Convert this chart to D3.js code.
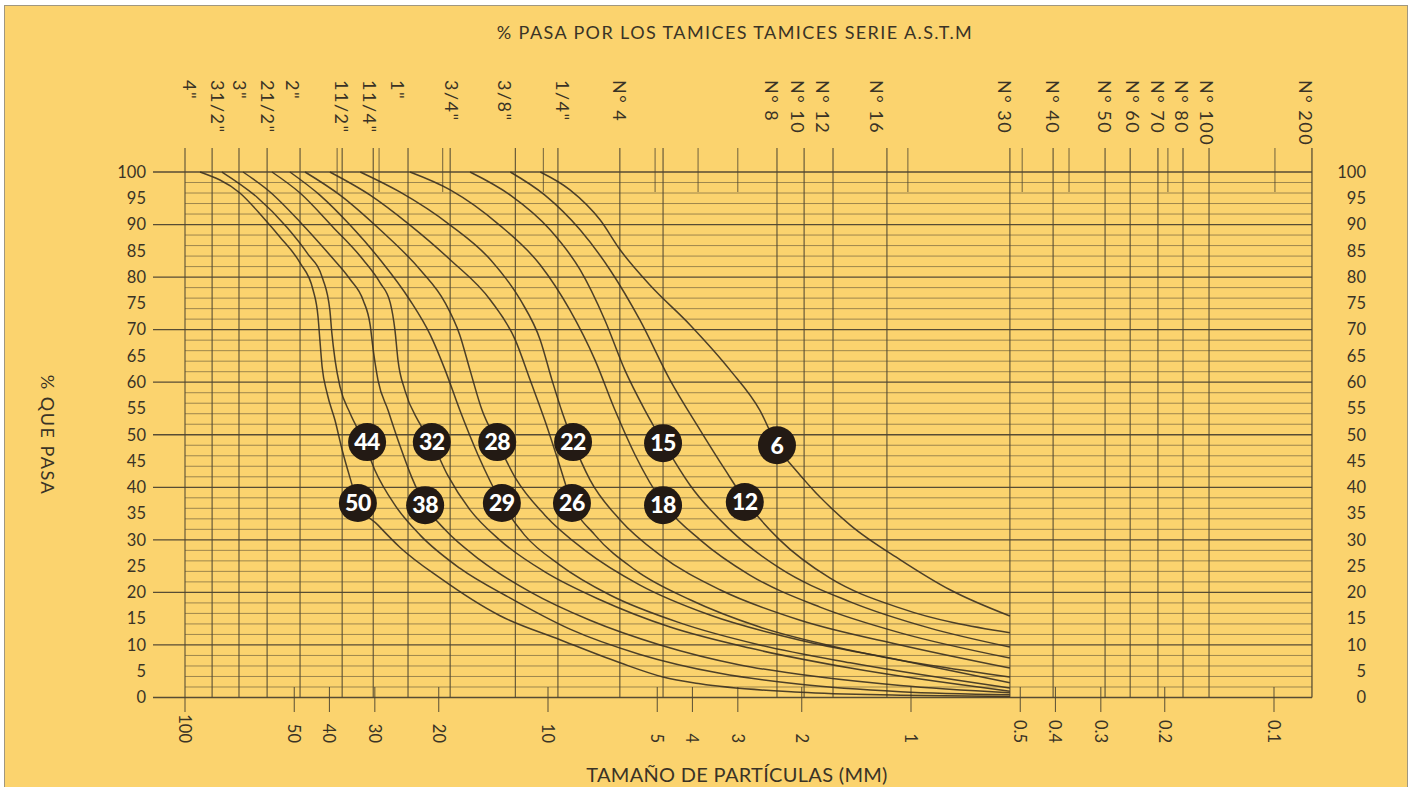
<!DOCTYPE html>
<html><head><meta charset="utf-8">
<script src="https://cdn.jsdelivr.net/npm/d3@7"></script>
<style>html,body{margin:0;padding:0;background:#fff;} svg{display:block}</style>
</head><body><svg id="chart" width="1411" height="787"></svg>
<script>
// ---------------- DATA ----------------
// % passing tick labels (both sides)
const yTickValues = [0,5,10,15,20,25,30,35,40,45,50,55,60,65,70,75,80,85,90,95,100];
// particle size axis (mm)
const xTickValues = [100,50,40,30,20,10,5,4,3,2,1,0.5,0.4,0.3,0.2,0.1];
const xTickLabels = ["100","50","40","30","20","10","5","4","3","2","1","0.5","0.4","0.3","0.2","0.1"];
// sieve lines (full height), positions in mm read on the size scale
const sieveLines = [100,84.2,71.0,59.4,48.2,36.9,30.3,24.3,18.6,12.3,9.39,6.34,4.82,2.34,1.97,1.64,1.165,0.534,0.406,0.292,0.249,0.2088,0.1781,0.151];
const rightEdgeMM = 0.0786;
// short ticks at the top of the grid (mm)
const topShortTicks = [38.1,29.2,19.5,10.3,5.07,3.86,3.00,1.02,0.494,0.367,0.196,0.0994];
// ASTM sieve names and where their labels sit (mm on the size scale)
const sieveNames = ['4"','31/2"','3"','21/2"','2"','11/2"','11/4"','1"','3/4"','3/8"','1/4"','N° 4','N° 8','N° 10','N° 12','N° 16','N° 30','N° 40','N° 50','N° 60','N° 70','N° 80','N° 100','N° 200'];
const sieveLabelPos = [96.9,81.1,70.6,59.1,50.4,36.9,30.9,25.9,18.4,13.1,9.09,6.33,2.41,2.05,1.75,1.24,0.551,0.406,0.292,0.2445,0.2088,0.1792,0.153,0.0816];

// grading curves: [size mm, % passing]
const c50 = [[90.9,100],[70.6,96.0],[61.0,91.4],[54.7,87.6],[48.2,82.7],[44.4,77.6],[43.0,72.4],[42.5,68.0],[41.9,62.9],[40.6,57.9],[38.6,52.7],[36.9,47.1],[35.1,41.8],[33.4,37.0],[29.4,32.8],[25.6,28.6],[19.8,22.7],[13.6,15.6],[9.27,11.0],[6.33,6.6],[4.82,3.9],[3.81,2.6],[2.02,1.0],[1.07,0.45],[0.534,0.2]];
const c44 = [[79.1,100],[63.3,95.2],[52.4,89.5],[46.1,84.6],[41.7,79.6],[39.9,73.7],[39.4,69.4],[38.6,64.2],[37.4,59.1],[35.1,54.1],[32.3,49.0],[30.0,43.3],[26.4,36.6],[22.5,30.9],[17.5,24.6],[12.7,18.9],[8.70,13.0],[5.58,8.2],[3.36,4.6],[2.02,2.5],[1.07,1.1],[0.534,0.5]];
const c38 = [[69.2,100],[58.3,96.2],[48.2,90.5],[39.9,84.2],[35.1,79.6],[32.3,75.6],[30.9,70.9],[30.3,66.1],[29.4,60.4],[27.6,54.7],[25.6,48.0],[23.7,41.8],[21.8,36.6],[19.2,31.9],[15.4,26.2],[11.2,20.1],[7.66,14.7],[4.91,10.0],[2.96,6.2],[1.78,3.9],[1.07,2.3],[0.534,0.9]];
const c32 = [[57.6,100],[48.2,96.0],[39.1,89.5],[32.3,83.3],[29.0,78.9],[27.2,75.1],[26.4,69.9],[25.9,64.2],[24.8,58.5],[22.8,52.7],[20.9,48.6],[18.9,42.3],[16.4,35.7],[13.6,30.0],[10.2,23.9],[7.19,18.6],[4.61,13.4],[2.78,9.4],[1.47,5.6],[0.534,1.2]];
const c29 = [[51.4,100],[42.5,95.6],[35.1,89.9],[29.0,83.3],[24.0,75.6],[21.1,69.0],[19.2,62.3],[17.5,54.7],[15.6,46.2],[13.4,37.0],[11.6,30.9],[9.27,25.2],[6.75,19.5],[4.33,14.2],[2.61,10.0],[1.47,6.6],[0.534,1.8]];
const c28 = [[46.7,100],[37.4,95.6],[29.0,89.0],[22.5,81.4],[19.2,75.1],[17.5,69.0],[16.4,62.3],[15.2,54.7],[13.8,48.6],[12.3,41.8],[10.2,34.7],[7.91,28.0],[5.58,21.4],[3.58,15.7],[2.02,10.9],[1.07,7.1],[0.534,2.8]];
const c26 = [[39.9,100],[30.9,95.6],[24.0,89.9],[18.6,83.3],[14.4,75.6],[12.3,68.0],[11.2,60.4],[10.2,52.7],[9.39,45.2],[8.59,37.0],[7.42,30.9],[5.76,24.3],[4.06,18.6],[2.61,13.4],[1.47,9.0],[0.534,3.9]];
const c22 = [[32.9,100],[25.6,96.2],[18.6,89.9],[14.4,83.3],[11.9,75.6],[10.5,68.0],[9.75,60.4],[9.09,53.8],[8.53,48.6],[7.66,41.4],[6.33,33.8],[4.91,27.1],[3.36,20.5],[2.02,14.7],[1.07,10.0],[0.534,5.6]];
const c18 = [[24.0,100],[18.6,96.6],[13.6,89.9],[10.5,82.3],[8.70,73.7],[7.42,64.2],[6.54,54.7],[5.76,46.2],[4.82,37.0],[3.81,30.0],[2.78,23.3],[1.78,17.2],[1.07,12.3],[0.534,7.5]];
const c15 = [[16.4,100],[12.7,95.6],[9.87,89.0],[8.16,81.4],[6.97,71.8],[6.14,62.3],[5.41,54.7],[4.82,48.6],[4.06,40.4],[3.15,31.9],[2.30,24.6],[1.47,18.2],[0.887,13.2],[0.534,9.6]];
const c12 = [[12.7,100],[10.2,95.6],[8.16,89.0],[6.75,81.4],[5.58,71.8],[4.61,60.4],[3.81,50.9],[3.25,43.3],[2.87,37.6],[2.30,30.0],[1.67,22.7],[1.07,17.0],[0.534,12.3]];
const c6  = [[10.5,100],[8.70,96.6],[7.19,90.9],[6.33,85.2],[5.24,78.5],[4.06,70.9],[3.15,62.3],[2.61,54.7],[2.34,48.0],[2.02,42.3],[1.47,32.8],[1.07,26.2],[0.781,20.5],[0.534,15.5]];
const curves = [c50,c44,c38,c32,c29,c28,c26,c22,c18,c15,c12,c6];

// curve badges: label, size mm, % passing
const badgeLabels = ["44","32","28","22","15","6","50","38","29","26","18","12"];
const badgeSize   = [31.5,20.9,13.8,8.53,4.82,2.34,33.4,21.8,13.4,8.59,4.82,2.87];
const badgePct    = [48.6,48.6,48.6,48.6,48.4,48.0,37.0,36.6,37.0,37.0,36.6,37.2];

const titleTop = "% PASA POR LOS TAMICES TAMICES SERIE A.S.T.M";
const titleBottom = "TAMAÑO DE PARTÍCULAS (MM)";
const titleLeft = "% QUE PASA";

// ---------------- DRAWING ----------------
const svg = d3.select("#chart");
const FONT = "Lato, 'Open Sans', sans-serif";
const INK = "#4e4530";
const TXT = "#3a3326";

svg.append("rect").attr("x",4.5).attr("y",5.5).attr("width",1403).attr("height",782)
  .attr("fill","#FBD36E").attr("stroke","#a09780").attr("stroke-width",1);

const x = d3.scaleLog().domain([100,0.1]).range([185,1274]);
const y = d3.scaleLinear().domain([0,100]).range([697.5,172]);
const xL = x(100), xR = x(rightEdgeMM);
const gridTop = 148;

const g = svg.append("g");

// horizontal lines every 2 %
const hVals = d3.range(0,101,2);
g.selectAll("line.h").data(hVals).join("line")
  .attr("x1", d => d % 10 === 0 ? 153 : xL)
  .attr("x2", xR)
  .attr("y1", d => y(d)).attr("y2", d => y(d))
  .attr("stroke", INK)
  .attr("stroke-opacity", d => d % 10 === 0 ? 0.95 : 0.6)
  .attr("stroke-width", d => d % 10 === 0 ? 1.3 : 0.9);

// full-height sieve lines
g.selectAll("line.v").data(sieveLines).join("line")
  .attr("x1", d => x(d)).attr("x2", d => x(d))
  .attr("y1", gridTop).attr("y2", y(0))
  .attr("stroke", INK).attr("stroke-opacity",0.85).attr("stroke-width",1.2);
// right edge
g.append("line").attr("x1",xR).attr("x2",xR).attr("y1",gridTop).attr("y2",y(0))
  .attr("stroke",INK).attr("stroke-width",1.2);

// top short ticks
g.selectAll("line.ts").data(topShortTicks).join("line")
  .attr("x1", d => x(d)).attr("x2", d => x(d))
  .attr("y1", gridTop).attr("y2", 192)
  .attr("stroke", INK).attr("stroke-opacity",0.8).attr("stroke-width",1);

// bottom axis ticks
g.selectAll("line.bt").data(xTickValues).join("line")
  .attr("x1", d => x(d)).attr("x2", d => x(d))
  .attr("y1", d => d === 100 ? y(0) : y(2)).attr("y2", 712)
  .attr("stroke", INK).attr("stroke-opacity",0.85).attr("stroke-width",1.1);

// curves
const line = d3.line().x(d => x(d[0])).y(d => y(d[1])).curve(d3.curveMonotoneX);
g.selectAll("path.curve").data(curves).join("path")
  .attr("d", line).attr("fill","none")
  .attr("stroke","#3a3020").attr("stroke-width",1.5).attr("stroke-opacity",0.9);

// badges
const badges = g.selectAll("g.badge").data(badgeLabels).join("g")
  .attr("transform", (d,i) => `translate(${x(badgeSize[i])},${y(badgePct[i])})`);
badges.append("circle").attr("r",19).attr("fill","#231a14");
badges.append("text").text(d => d)
  .attr("text-anchor","middle").attr("dy","0.36em")
  .attr("fill","#fff").attr("font-family",FONT).attr("font-weight",900)
  .attr("font-size",23).attr("letter-spacing",-0.5);

// y tick labels left and right
const labStyle = s => s.attr("font-family",FONT).attr("font-size",16.5).attr("fill",TXT);
svg.selectAll("text.yl").data(yTickValues).join("text")
  .attr("x",146).attr("y", d => y(d)).attr("dy","0.35em").attr("text-anchor","end")
  .text(d => d).call(labStyle);
svg.selectAll("text.yr").data(yTickValues).join("text")
  .attr("x",1366).attr("y", d => y(d)).attr("dy","0.35em").attr("text-anchor","end")
  .text(d => d).call(labStyle);

// bottom tick labels (rotated)
svg.selectAll("text.xl").data(xTickValues).join("text")
  .attr("transform", d => `translate(${x(d)},743) rotate(90)`)
  .attr("text-anchor","end").attr("dominant-baseline","central")
  .text((d,i) => xTickLabels[i]).call(labStyle);

// sieve labels (rotated)
svg.selectAll("text.sv").data(sieveNames).join("text")
  .attr("transform", (d,i) => `translate(${x(sieveLabelPos[i])},80) rotate(90)`)
  .attr("text-anchor","start").attr("dominant-baseline","central")
  .text(d => d).attr("font-family",FONT).attr("font-size",18).attr("letter-spacing",1.5).attr("fill",TXT);

// titles
svg.append("text").attr("x",735).attr("y",39).attr("text-anchor","middle")
  .text(titleTop).attr("font-family",FONT).attr("font-size",18).attr("letter-spacing",1.4).attr("fill",TXT);
svg.append("text").attr("x",737).attr("y",782).attr("text-anchor","middle")
  .text(titleBottom).attr("font-family",FONT).attr("font-size",20).attr("letter-spacing",0.3).attr("fill",TXT);
svg.append("text").attr("transform","translate(48,435) rotate(90)")
  .attr("text-anchor","middle").attr("dominant-baseline","central")
  .text(titleLeft).attr("font-family",FONT).attr("font-size",18).attr("letter-spacing",1.5).attr("fill",TXT);
</script></body></html>
